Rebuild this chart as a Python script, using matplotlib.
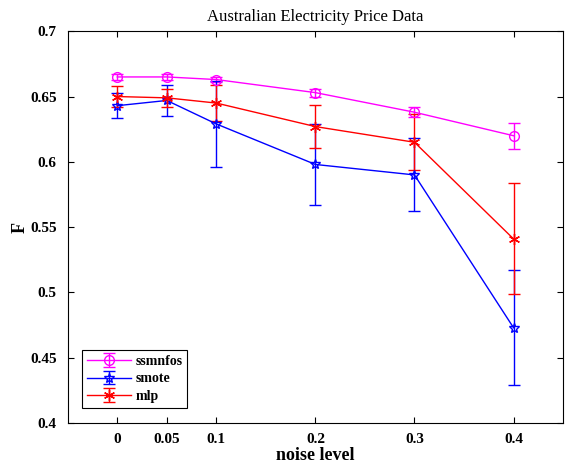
import numpy as np
import matplotlib
matplotlib.use('Agg')
from matplotlib import pyplot as plt

plt.rcParams['font.family'] = ['Liberation Serif', 'DejaVu Serif']

noise = [0, 0.05, 0.1, 0.2, 0.3, 0.4]
xlabels = ['0', '0.05', '0.1', '0.2', '0.3', '0.4']

ssmnfos = [0.665, 0.665, 0.663, 0.653, 0.638, 0.620]
ssmnfos_err = [0.002, 0.002, 0.002, 0.003, 0.004, 0.010]

smote = [0.643, 0.647, 0.629, 0.598, 0.590, 0.473]
smote_err = [0.0095, 0.012, 0.033, 0.031, 0.028, 0.044]

mlp = [0.650, 0.649, 0.645, 0.627, 0.615, 0.541]
mlp_err = [0.008, 0.007, 0.0135, 0.0167, 0.0215, 0.0425]

fig = plt.figure(figsize=(5.74, 4.66), dpi=100)
ax = fig.add_axes([0.118, 0.092, 0.863, 0.841])

ax.errorbar(noise, ssmnfos, yerr=ssmnfos_err, color='#ff00ff', marker='o', mfc='none',
            ms=7, lw=1.0, elinewidth=1.0, capsize=4, capthick=1.0, label='ssmnfos')
ax.errorbar(noise, smote, yerr=smote_err, color='#0000ff', marker='*', mfc='none',
            ms=7, lw=1.0, elinewidth=1.0, capsize=4, capthick=1.0, label='smote')
ax.errorbar(noise, mlp, yerr=mlp_err, color='#ff0000', marker=(6, 2, 0),
            ms=8, lw=1.0, elinewidth=1.0, capsize=4, capthick=1.0, label='mlp')

ax.set_xlim(-0.05, 0.45)
ax.set_ylim(0.4, 0.7)
ax.set_xticks(noise)
ax.set_xticklabels(xlabels)
yt = np.arange(0.4, 0.7001, 0.05)
ax.set_yticks(yt)
ax.set_yticklabels(['0.4', '0.45', '0.5', '0.55', '0.6', '0.65', '0.7'])
ax.tick_params(direction='in', top=True, right=True, length=4, labelsize=11)
ax.tick_params(axis='x', pad=7)
ax.tick_params(axis='y', pad=8)
for t in ax.get_xticklabels() + ax.get_yticklabels():
    t.set_fontweight('bold')
for s in ax.spines.values():
    s.set_linewidth(0.8)

ax.set_title('Australian Electricity Price Data', fontsize=12, pad=7)
ax.set_xlabel('noise level', fontsize=13, fontweight='bold', labelpad=1)
ax.set_ylabel('F', fontsize=13, fontweight='bold', labelpad=1)

leg = ax.legend(loc='lower left', bbox_to_anchor=(14 / 495, 15 / 392), borderaxespad=0,
                fancybox=False, edgecolor='black', framealpha=1,
                prop={'weight': 'bold', 'size': 10}, handlelength=3.2,
                borderpad=0.35, labelspacing=0.35, handletextpad=0.3)
leg.get_frame().set_linewidth(0.8)

plt.savefig('out.png', dpi=100)
